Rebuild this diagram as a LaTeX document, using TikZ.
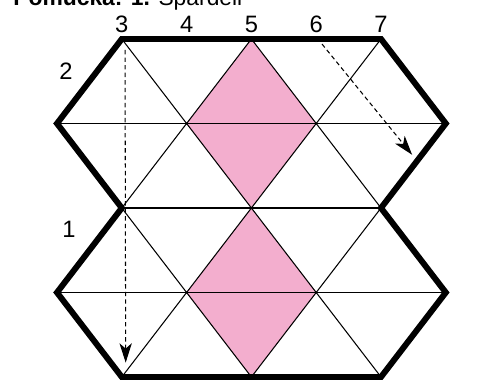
\documentclass[tikz,border=0pt]{standalone}
\usepackage{fontspec}
\setmainfont{Liberation Sans}
\usetikzlibrary{arrows.meta}
\definecolor{diamondpink}{RGB}{243,174,206}

\begin{document}
\begin{tikzpicture}[
  x=1.296cm, y=-1.69cm,
  outline/.style={line width=3.4pt, line join=miter, miter limit=10},
  gridline/.style={line width=0.6pt},
  move/.style={->, >={Stealth[length=11pt,width=7pt,inset=3pt]}, dash pattern=on 2.5pt off 1.8pt, line width=0.6pt},
  num/.style={font=\fontsize{13.5}{15}\selectfont, inner sep=0pt}
]
  \useasboundingbox (-0.8796,-0.4615) rectangle (6.713,4.047);
  \clip (-0.8796,-0.4615) rectangle (6.713,4.047);
  % lattice points
  \foreach \i in {0,...,6}
    \foreach \j in {0,...,4}
      \coordinate (p\i\j) at (\i,\j);

  % pink diamonds
  \fill[diamondpink] (p30) -- (p21) -- (p32) -- (p41) -- cycle;
  \fill[diamondpink] (p32) -- (p23) -- (p34) -- (p43) -- cycle;

  % grid
  \draw[gridline] (p01) -- (p61) (p12) -- (p52) (p03) -- (p63);
  \draw[gridline] (p10) -- (p32) (p30) -- (p52) (p30) -- (p12) (p50) -- (p32);
  \draw[gridline] (p12) -- (p34) (p32) -- (p54) (p32) -- (p14) (p52) -- (p34);

  % outline
  \draw[outline] (p10) -- (p50) -- (p61) -- (p52) -- (p63) -- (p54)
    -- (p14) -- (p03) -- (p12) -- (p01) -- cycle;

  % numbers
  \foreach \i/\n in {1/3,2/4,3/5,4/6,5/7}
    \node[num] (top\n) at (\i,-0.172) {\n};
  \node[num] (row2) at (0.139,0.379) {2};
  \node[num] (row1) at (0.185,2.249) {1};

  % title
  \node[anchor=base west, inner sep=0pt, font=\fontsize{13}{15}\selectfont] (title)
    at (-0.679,-0.402) {\textbf{Pomůcka: 1.} Spardeli};

  % moves
  \coordinate (s1) at (1.05,0.13);
  \coordinate (e1) at (1.06,3.83);
  \coordinate (s2) at (4.09,0.06);
  \coordinate (e2) at (5.48,1.37);
  \draw[move] (s1) -- (e1);
  \draw[move] (s2) -- (e2);
\end{tikzpicture}
\end{document}
